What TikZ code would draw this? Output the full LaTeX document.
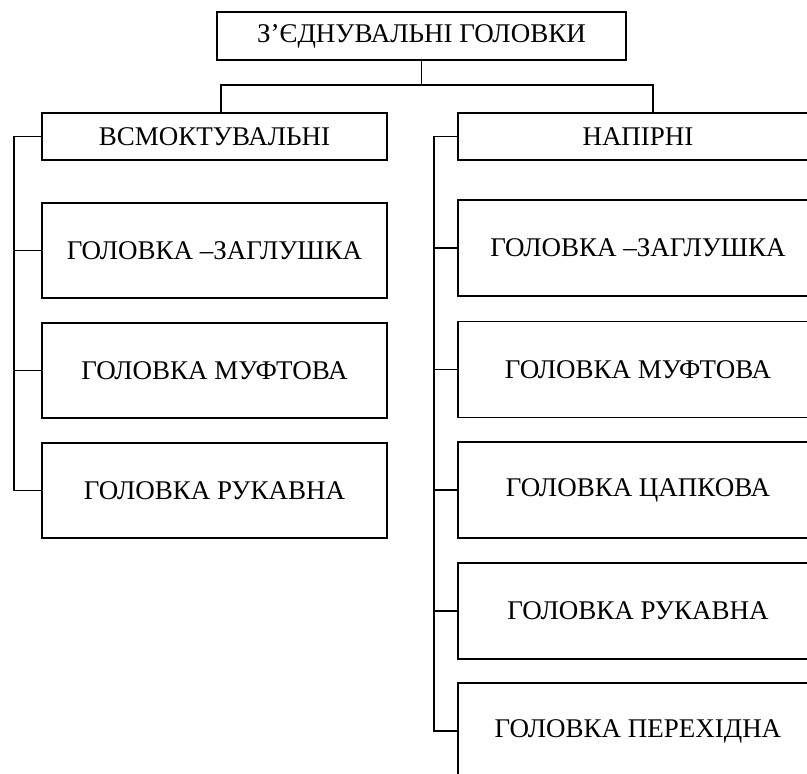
\documentclass[tikz,border=0pt]{standalone}
\usepackage{fontspec}
\setmainfont{Liberation Serif}
\begin{document}
\begin{tikzpicture}[x=1pt,y=-1pt,
  box/.style={draw,line width=1.6pt,rectangle,inner sep=0pt,font=\fontsize{27}{32}\selectfont},
  link/.style={line width=1.6pt}]
\useasboundingbox (0,0) rectangle (807,774);
\clip (0,0) rectangle (807,774);
\fill[white] (0,0) rectangle (807,774);
\node[box,minimum width=409pt,minimum height=48pt] (top) at (421.5,36) {З’ЄДНУВАЛЬНІ ГОЛОВКИ};
\node[box,minimum width=345pt,minimum height=47pt] (lh) at (214.5,136.5) {ВСМОКТУВАЛЬНІ};
\node[box,minimum width=360pt,minimum height=47pt] (rh) at (638,136.5) {НАПІРНІ};
\node[box,minimum width=345pt,minimum height=95pt] (l1) at (214.5,250.5) {ГОЛОВКА –ЗАГЛУШКА};
\node[box,minimum width=345pt,minimum height=95pt] (l2) at (214.5,370.5) {ГОЛОВКА МУФТОВА};
\node[box,minimum width=345pt,minimum height=95pt] (l3) at (214.5,490.5) {ГОЛОВКА РУКАВНА};
\node[box,minimum width=360pt,minimum height=96pt] (r1) at (638,248) {ГОЛОВКА –ЗАГЛУШКА};
\node[box,minimum width=360pt,minimum height=96pt] (r2) at (638,369.5) {ГОЛОВКА МУФТОВА};
\node[box,minimum width=360pt,minimum height=96pt] (r3) at (638,490) {ГОЛОВКА ЦАПКОВА};
\node[box,minimum width=360pt,minimum height=96pt] (r4) at (638,611) {ГОЛОВКА РУКАВНА};
\node[box,minimum width=360pt,minimum height=96pt] (r5) at (638,731) {ГОЛОВКА ПЕРЕХІДНА};
\coordinate (bus) at (421.5,85);
\coordinate (sl) at (14,0);
\coordinate (sr) at (434,0);
\draw[link] (top.south) -- (bus);
\draw[link] (lh.north -| 221,0) |- (bus) -| (rh.north -| 653,0);
\draw[link] (lh.west) -- (lh.west -| sl) |- (l3.west);
\draw[link] (l1.west) -- (l1.west -| sl);
\draw[link] (l2.west) -- (l2.west -| sl);
\draw[link] (rh.west) -- (rh.west -| sr) |- (r5.west);
\draw[link] (r1.west) -- (r1.west -| sr);
\draw[link] (r2.west) -- (r2.west -| sr);
\draw[link] (r3.west) -- (r3.west -| sr);
\draw[link] (r4.west) -- (r4.west -| sr);
\end{tikzpicture}
\end{document}
